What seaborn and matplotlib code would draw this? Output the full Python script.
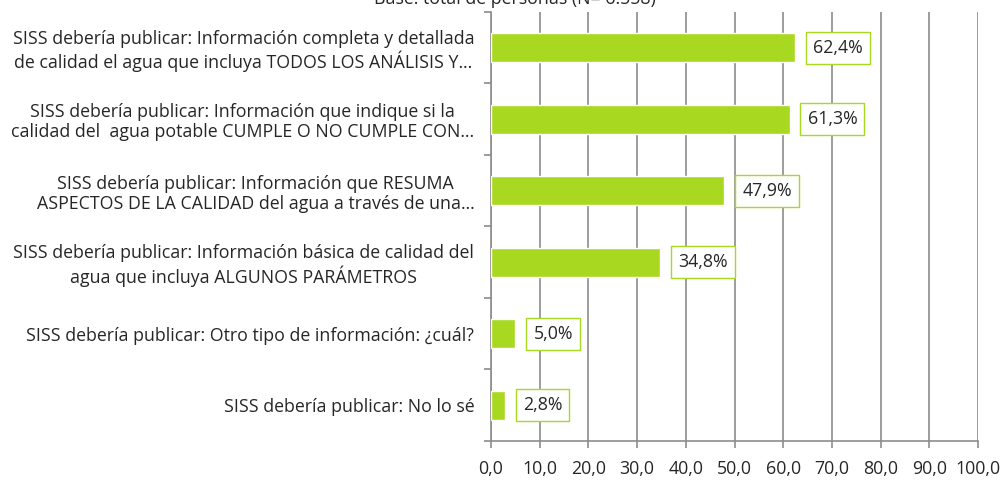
import matplotlib
matplotlib.use('Agg')
import matplotlib.pyplot as plt
import seaborn as sns
import pandas as pd

categories = [
    "SISS debería publicar: Información completa y detallada\nde calidad el agua que incluya TODOS LOS ANÁLISIS Y…",
    "SISS debería publicar: Información que indique si la\ncalidad del  agua potable CUMPLE O NO CUMPLE CON…",
    "SISS debería publicar: Información que RESUMA\nASPECTOS DE LA CALIDAD del agua a través de una…",
    "SISS debería publicar: Información básica de calidad del\nagua que incluya ALGUNOS PARÁMETROS",
    "SISS debería publicar: Otro tipo de información: ¿cuál?",
    "SISS debería publicar: No lo sé",
]
values = [62.4, 61.3, 47.9, 34.8, 5.0, 2.8]
xticks = [0, 10, 20, 30, 40, 50, 60, 70, 80, 90, 100]
title = "Base: total de personas (N= 6.558)"

green = "#a8d81f"
grid_color = "#8c8c8c"
fs = 12.8

sns.set_style("white")
plt.rcParams['font.family'] = ['Open Sans', 'DejaVu Sans']

df = pd.DataFrame({"cat": categories, "val": values})

fig = plt.figure(figsize=(10.08, 4.8), dpi=100)
ax = fig.add_axes([491 / 1008, 39 / 480, 487 / 1008, 429 / 480])

sns.barplot(data=df, x="val", y="cat", orient="h", color=green, width=0.4,
            saturation=1, ax=ax, zorder=3)

ax.set_xlim(0, 100)
ax.set_ylim(5.5, -0.5)
ax.set_xticks(xticks)
ax.set_xticklabels([f"{v:.1f}".replace(".", ",") for v in xticks], fontsize=fs)
ax.xaxis.grid(True, color=grid_color, linewidth=1.2, zorder=0)
ax.set_axisbelow(True)
ax.set_xlabel("")
ax.set_ylabel("")

for s in ["top", "right"]:
    ax.spines[s].set_visible(False)
for s in ["left", "bottom"]:
    ax.spines[s].set_color(grid_color)
    ax.spines[s].set_linewidth(1.2)

ax.tick_params(axis='x', which='major', direction='out', length=5, width=1.2,
               color=grid_color, pad=9, bottom=True)
ax.tick_params(axis='y', which='major', length=0, pad=12)
ax.set_yticks([i + 0.5 for i in range(-1, 6)], minor=True)
ax.tick_params(axis='y', which='minor', direction='out', length=5, width=1.2,
               color=grid_color, left=True)
for lbl in ax.get_yticklabels():
    lbl.set_multialignment('center')
    lbl.set_fontsize(fs)
    lbl.set_linespacing(1.15)

for i, v in enumerate(values):
    ax.annotate(f"{v:.1f}%".replace(".", ","), xy=(v, i), xytext=(13, 0),
                textcoords="offset points", ha="left", va="center", fontsize=fs,
                bbox=dict(boxstyle="square,pad=0.4", fc="white", ec=green, lw=1))

fig.text(0.511, 1.003, title, ha="center", va="center", fontsize=fs)

fig.savefig("out.png", dpi=100)
